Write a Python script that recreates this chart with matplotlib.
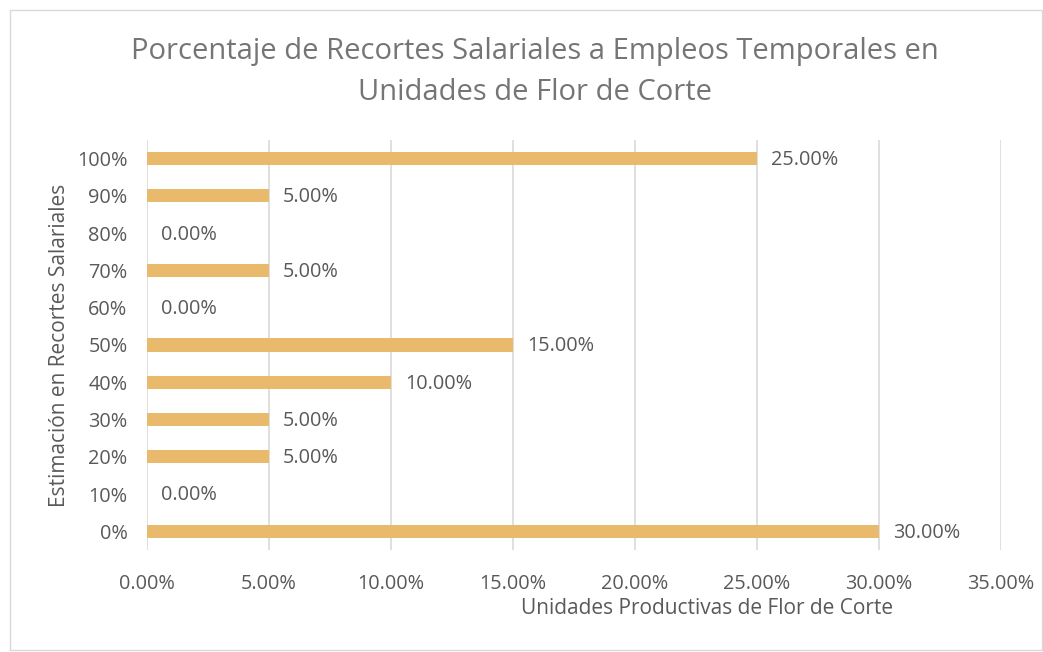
import matplotlib
matplotlib.use("Agg")
import matplotlib.pyplot as plt
from matplotlib.patches import Rectangle

categories = ["0%", "10%", "20%", "30%", "40%", "50%", "60%", "70%", "80%", "90%", "100%"]
values = [30.0, 0.0, 5.0, 5.0, 10.0, 15.0, 0.0, 5.0, 0.0, 5.0, 25.0]
xticks = [0, 5, 10, 15, 20, 25, 30, 35]

plt.rcParams['font.family'] = ['Open Sans', 'DejaVu Sans']
TXT = '#595959'
BAR = '#E9BA6B'

fig = plt.figure(figsize=(10.43, 6.52), dpi=100)
fig.patches.append(Rectangle((10/1043, 1 - 650/652), 1 - 11/1043, 640/652,
                             transform=fig.transFigure, fill=False,
                             edgecolor='#D9D9D9', linewidth=1))
ax = fig.add_axes([147/1043, 1 - 550/652, (1001 - 147)/1043, 410/652])
y = list(range(len(categories)))
ax.barh(y, values, height=0.35, color=BAR, zorder=3)
ax.set_xlim(0, 35)
ax.set_ylim(-0.5, len(categories) - 0.5)
ax.set_yticks(y)
ax.set_yticklabels(categories, color=TXT, fontsize=14.3)
ax.set_xticks(xticks)
ax.set_xticklabels([f"{v:.2f}%" for v in xticks], color=TXT, fontsize=14.3)
ax.tick_params(axis='both', length=0)
ax.tick_params(axis='x', pad=17)
ax.tick_params(axis='y', pad=14)
ax.grid(axis='x', color='#D9D9D9', linewidth=1.2, zorder=0)
for s in ax.spines.values():
    s.set_visible(False)
for yi, v in zip(y, values):
    ax.annotate(f"{v:.2f}%", (v, yi), xytext=(10, -1), textcoords='offset points',
                va='center', ha='left', color=TXT, fontsize=14.3)

fig.text(535/1043, 1 - 72/652, "Porcentaje de Recortes Salariales a Empleos Temporales en\nUnidades de Flor de Corte",
         ha='center', va='center', fontsize=21, color='#757575', linespacing=1.55)
fig.text(60/1043, 1 - 345/652, "Estimación en Recortes Salariales", rotation=90,
         ha='center', va='center', fontsize=15, color=TXT)
fig.text(707/1043, 1 - 609/652, "Unidades Productivas de Flor de Corte",
         ha='center', va='center', fontsize=15, color=TXT)

fig.savefig("out.png", dpi=100)
